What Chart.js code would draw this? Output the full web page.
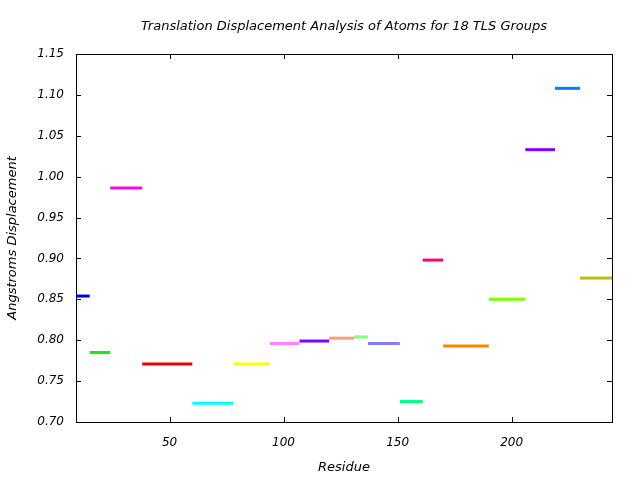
<!DOCTYPE html>
<html>
<head>
<meta charset="utf-8">
<script src="https://cdn.jsdelivr.net/npm/chart.js@4"></script>
<style>
html,body{margin:0;padding:0;background:#fff;}
#wrap{width:640px;height:480px;}
</style>
</head>
<body>
<div id="wrap"><canvas id="c" width="640" height="480"></canvas></div>
<script>
const groupStarts = [9, 15, 24, 38, 60, 78, 94, 107, 120, 131, 137, 151, 161, 170, 190, 206, 219, 230];
const groupEnds   = [15, 24, 38, 60, 78, 94, 107, 120, 131, 137, 151, 161, 170, 190, 206, 219, 230, 244];
const displacements = [0.854, 0.785, 0.986, 0.771, 0.723, 0.771, 0.796, 0.799, 0.8025, 0.804, 0.796, 0.725, 0.898, 0.793, 0.850, 1.033, 1.108, 0.876];
const groupColors = ['#0000dd', '#11ee11', '#ee11dd', '#ee0000', '#00ffff', '#ffff00', '#ff80ff', '#8000ff', '#ff9980', '#80ff80', '#8080ff', '#00ff80', '#ff0080', '#ff8000', '#80ff00', '#8000ff', '#0080ff', '#c0c000'];
const xTicks = [50, 100, 150, 200];
const yTicks = [0.70, 0.75, 0.80, 0.85, 0.90, 0.95, 1.00, 1.05, 1.10, 1.15];

const FONT = 'DejaVu Sans';

const datasets = groupStarts.map((s, i) => ({
  label: 'Group ' + (i + 1),
  data: [{x: s, y: displacements[i]}, {x: groupEnds[i], y: displacements[i]}],
  borderColor: groupColors[i],
  backgroundColor: groupColors[i],
  borderWidth: 3,
  pointRadius: 0,
  borderCapStyle: 'butt',
  clip: false,
  fill: false,
  tension: 0
}));

const frame = {
  id: 'frame',
  beforeDatasetsDraw(chart) {
    const {ctx, chartArea: a, scales} = chart;
    ctx.save();
    ctx.strokeStyle = '#000';
    ctx.lineWidth = 1;
    ctx.strokeRect(Math.round(a.left) + 0.5, Math.round(a.top) + 0.5, Math.round(a.right - a.left), Math.round(a.bottom - a.top));
    const L = 5;
    ctx.beginPath();
    xTicks.forEach(v => {
      const px = Math.round(scales.x.getPixelForValue(v)) + 0.5;
      ctx.moveTo(px, a.bottom); ctx.lineTo(px, a.bottom - L);
      ctx.moveTo(px, a.top); ctx.lineTo(px, a.top + L);
    });
    yTicks.forEach(v => {
      const py = Math.round(scales.y.getPixelForValue(v)) + 0.5;
      ctx.moveTo(a.left, py); ctx.lineTo(a.left + L, py);
      ctx.moveTo(a.right, py); ctx.lineTo(a.right - L, py);
    });
    ctx.stroke();
    ctx.restore();
  }
};

new Chart(document.getElementById('c'), {
  type: 'line',
  data: {datasets},
  plugins: [frame],
  options: {
    responsive: false,
    animation: false,
    layout: {padding: {left: 0, right: 28, top: 0, bottom: 0}},
    plugins: {
      legend: {display: false},
      tooltip: {enabled: false},
      title: {
        display: true,
        fullSize: false,
        text: 'Translation Displacement Analysis of Atoms for 18 TLS Groups',
        color: '#000',
        font: {family: FONT, size: 13, style: 'italic', weight: 'normal', lineHeight: 1.2},
        padding: {top: 19, bottom: 19.4}
      }
    },
    scales: {
      x: {
        type: 'linear',
        min: 9, max: 244,
        border: {display: false},
        grid: {display: false, drawTicks: false},
        afterBuildTicks(scale) { scale.ticks = xTicks.map(v => ({value: v})); },
        afterFit(scale) { scale.height = 58; },
        ticks: {
          color: '#000', padding: 14,
          font: {family: FONT, size: 12, style: 'italic'},
          callback: v => String(v)
        },
        title: {
          display: true, text: 'Residue', color: '#000',
          font: {family: FONT, size: 13, style: 'italic'},
          padding: {top: 6, bottom: 5}
        }
      },
      y: {
        type: 'linear',
        min: 0.70, max: 1.15,
        border: {display: false},
        grid: {display: false, drawTicks: false},
        afterBuildTicks(scale) { scale.ticks = yTicks.map(v => ({value: v})); },
        afterFit(scale) { scale.width = 76; },
        ticks: {
          color: '#000', padding: 12,
          font: {family: FONT, size: 12, style: 'italic'},
          callback: v => Number(v).toFixed(2)
        },
        title: {
          display: true, text: 'Angstroms Displacement', color: '#000',
          font: {family: FONT, size: 13, style: 'italic'},
          padding: {top: 5, bottom: 0}
        }
      }
    }
  }
});
</script>
</body>
</html>
